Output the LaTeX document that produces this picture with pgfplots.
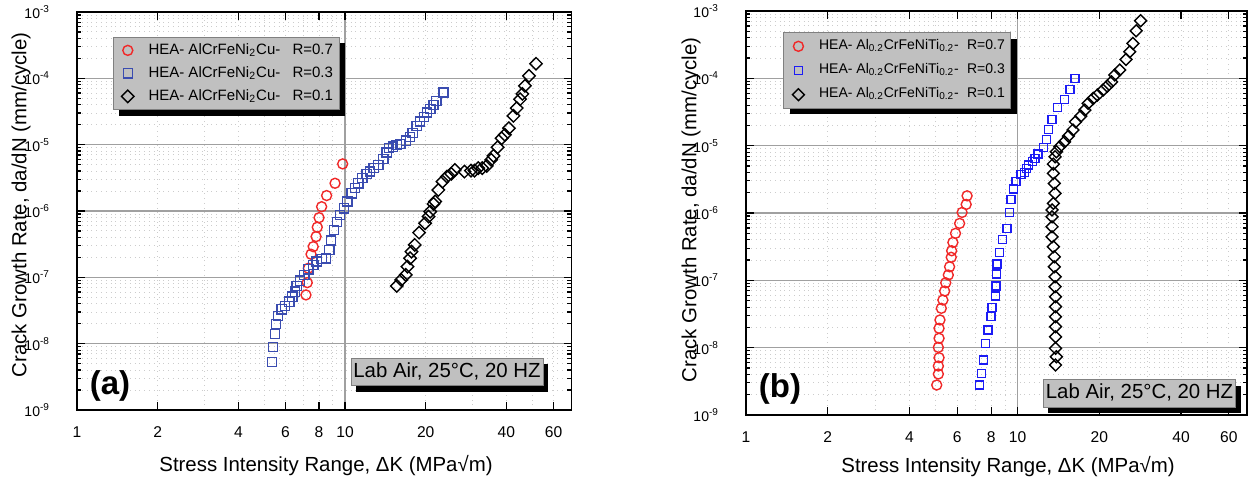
\documentclass[border=0pt]{standalone}
\usepackage{fontspec}
\setmainfont{Liberation Sans}
\usepackage{pgfplots}
\pgfplotsset{compat=1.18}
\usetikzlibrary{shadows}
\definecolor{mred}{HTML}{F02828}
\definecolor{bluea}{HTML}{3A4CB0}
\definecolor{blueb}{HTML}{1C1CF5}
\definecolor{lgray}{HTML}{C0C0C0}
\definecolor{gridmaj}{HTML}{A0A0A0}
\definecolor{gridmin}{HTML}{CCCCCC}
\pgfplotsset{
 legend image code/.code={\path (0pt,0pt) (14pt,0pt); \draw[mark repeat=2,mark phase=2,#1] plot coordinates {(0pt,0pt) (5pt,0pt) (14pt,0pt)};},
 every axis/.append style={
  scale only axis,
  xmin=1, xmax=70, ymin=1e-9, ymax=1e-3,
  xtick={1,10,100}, xticklabels={1,10,100},
  extra x ticks={2,4,6,8,20,40,60},
  extra x tick labels={2,4,6,8,20,40,60},
  extra x tick style={grid=none},
  ytick={1e-9,1e-8,1e-7,1e-6,1e-5,1e-4,1e-3},
  yticklabels={10\textsuperscript{-9},10\textsuperscript{-8},10\textsuperscript{-7},10\textsuperscript{-6},10\textsuperscript{-5},10\textsuperscript{-4},10\textsuperscript{-3}},
  grid=both,
  major grid style={gridmaj, line width=0.6pt},
  minor grid style={gridmin, dotted, line width=0.5pt},
  minor x tick style={draw=none},
  axis line style={line width=0.8pt},
  major tick length=4pt, minor tick length=2.2pt,
  tick style={black, line width=0.6pt},
  xticklabel style={font=\fontsize{7.8}{9}\selectfont, yshift=-5pt},
  yticklabel style={font=\fontsize{7}{8}\selectfont, xshift=-10pt},
  legend cell align=left,
 },
}
\begin{document}
\begin{tikzpicture}
\useasboundingbox (0pt,0pt) rectangle (624.5pt,241pt);
% ---------------- panel (a)
\begin{loglogaxis}[at={(38.5pt,36pt)}, anchor=south west, width=247.25pt, height=199pt,
  legend style={at={(0.0722,0.938)}, anchor=north west, fill=lgray, draw=gray,
    font=\fontsize{7.5}{9}\selectfont, inner xsep=2pt, inner ysep=2pt, row sep=2.2pt,
    nodes={inner sep=1pt, text height=5.5pt, text depth=1.8pt},
    drop shadow={shadow xshift=3pt, shadow yshift=-3pt, fill=black, opacity=1}}]
\addplot[only marks, line width=0.7pt, mark=o, mred, mark size=2.5pt] table {
7.15 5.43e-8
7.23 8.32e-8
7.30 1.37e-7
7.47 2.23e-7
7.61 2.90e-7
7.80 4.11e-7
7.88 5.70e-7
8.00 7.94e-7
8.18 1.16e-6
8.54 1.71e-6
9.18 2.62e-6
9.80 5.13e-6
};
\addlegendentry{\makebox[72pt][l]{HEA- AlCrFeNi\textsubscript{2}Cu-}R=0.7}
\addplot[only marks, line width=0.7pt, mark=square, bluea, mark size=2.3pt] table {
5.34 5.30e-9
5.39 8.9e-9
5.48 1.40e-8
5.53 1.98e-8
5.62 2.62e-8
5.80 3.30e-8
5.97 3.71e-8
6.20 4.30e-8
6.36 5.12e-8
6.51 6.08e-8
6.60 7.41e-8
6.79 8.91e-8
7.05 1.09e-7
7.30 1.32e-7
7.61 1.54e-7
7.84 1.73e-7
8.19 1.88e-7
8.49 1.94e-7
8.74 2.59e-7
8.87 3.58e-7
9.10 5.19e-7
9.33 6.86e-7
9.58 8.73e-7
9.91 1.10e-6
10.2 1.39e-6
10.6 1.85e-6
10.9 2.21e-6
11.2 2.62e-6
11.6 3.13e-6
12.05 3.63e-6
12.4 3.93e-6
12.8 4.43e-6
13.3 4.95e-6
13.9 6.04e-6
14.3 7.60e-6
14.6 8.85e-6
15.1 9.35e-6
15.6 9.93e-6
16.1 1.03e-5
16.9 1.15e-5
17.5 1.30e-5
17.9 1.49e-5
18.5 1.92e-5
19.05 2.23e-5
19.7 2.60e-5
20.2 3.05e-5
20.8 3.43e-5
21.4 3.98e-5
21.9 4.58e-5
23.3 6.11e-5
};
\addlegendentry{\makebox[72pt][l]{HEA- AlCrFeNi\textsubscript{2}Cu-}R=0.3}
\addplot[only marks, line width=0.7pt, mark=square, mark options={rotate=45}, black, mark size=2.2pt] table {
15.6 7.41e-8
16.2 9.14e-8
16.85 1.09e-7
17.1 1.45e-7
17.5 1.94e-7
17.7 2.44e-7
18.2 3.08e-7
18.9 4.72e-7
19.9 6.55e-7
20.5 8.24e-7
20.8 9.79e-7
21.4 1.28e-6
21.7 1.39e-6
22.3 2.08e-6
23.1 2.77e-6
24.0 3.30e-6
24.9 3.63e-6
25.7 4.17e-6
27.9 3.93e-6
29.5 4.06e-6
30.4 4.06e-6
31.4 4.43e-6
32.5 4.43e-6
33.8 4.79e-6
35.1 5.90e-6
35.8 6.78e-6
37.1 9.16e-6
38.4 1.25e-5
39.5 1.41e-5
40.9 1.77e-5
42.5 2.72e-5
43.7 3.56e-5
45.0 4.85e-5
45.9 5.83e-5
46.9 7.71e-5
48.6 1.09e-4
51.6 1.66e-4
};
\addlegendentry{\makebox[72pt][l]{HEA- AlCrFeNi\textsubscript{2}Cu-}R=0.1}
\end{loglogaxis}
% ---------------- panel (b)
\begin{loglogaxis}[at={(373pt,33.5pt)}, anchor=south west, width=250.5pt, height=202pt,
  legend style={at={(0.0745,0.947)}, anchor=north west, fill=lgray, draw=gray,
    font=\fontsize{7}{8.5}\selectfont, inner xsep=2pt, inner ysep=2pt, row sep=2.6pt,
    nodes={inner sep=1pt, text height=5.3pt, text depth=2.2pt},
    drop shadow={shadow xshift=3pt, shadow yshift=-3pt, fill=black, opacity=1}}]
\addplot[only marks, line width=0.7pt, mark=o, mred, mark size=2.5pt] table {
5.04 2.79e-9
5.11 4.06e-9
5.11 5.34e-9
5.14 7.10e-9
5.11 1.01e-8
5.14 1.38e-8
5.14 1.94e-8
5.18 2.58e-8
5.24 3.84e-8
5.31 5.10e-8
5.39 6.93e-8
5.44 9.20e-8
5.56 1.20e-7
5.62 1.59e-7
5.70 2.20e-7
5.72 2.75e-7
5.78 3.66e-7
5.91 4.99e-7
6.12 7.01e-7
6.25 1.02e-6
6.47 1.34e-6
6.52 1.80e-6
};
\addlegendentry{\makebox[74pt][l]{HEA- Al\textsubscript{0.2}CrFeNiTi\textsubscript{0.2}-}R=0.7}
\addplot[only marks, line width=0.7pt, mark=square, blueb, mark size=2pt] table {
7.24 2.79e-9
7.36 4.16e-9
7.51 6.56e-9
7.61 1.16e-8
7.78 1.83e-8
7.98 2.88e-8
8.05 3.92e-8
8.28 5.85e-8
8.33 8.22e-8
8.36 1.24e-7
8.40 1.75e-7
8.57 2.57e-7
8.81 4.06e-7
9.14 5.91e-7
9.35 1.01e-6
9.45 1.60e-6
9.67 2.27e-6
9.86 2.91e-6
10.3 3.75e-6
10.6 4.02e-6
10.8 4.60e-6
11.0 5.15e-6
11.35 5.77e-6
11.6 6.47e-6
11.9 7.50e-6
12.45 9.44e-6
12.8 1.24e-5
13.0 1.75e-5
13.4 2.46e-5
14.0 3.71e-5
14.9 4.86e-5
15.6 6.86e-5
16.3 9.98e-5
};
\addlegendentry{\makebox[74pt][l]{HEA- Al\textsubscript{0.2}CrFeNiTi\textsubscript{0.2}-}R=0.3}
\addplot[only marks, line width=0.7pt, mark=square, mark options={rotate=45}, black, mark size=2.1pt] table {
13.8 5.52e-9
13.9 7.34e-9
13.8 9.78e-9
13.8 1.45e-8
13.8 2.05e-8
13.8 2.88e-8
13.8 4.06e-8
13.8 5.71e-8
13.75 8.04e-8
13.75 1.13e-7
13.66 1.59e-7
13.66 2.24e-7
13.55 3.15e-7
13.4 4.43e-7
13.4 6.25e-7
13.4 8.79e-7
13.4 1.11e-6
13.55 1.39e-6
13.75 1.96e-6
13.66 2.75e-6
13.55 3.88e-6
13.55 5.33e-6
13.75 6.84e-6
13.9 8.11e-6
14.3 9.64e-6
14.9 1.14e-5
15.4 1.39e-5
16.0 1.71e-5
16.35 2.26e-5
17.1 2.75e-5
17.7 3.38e-5
18.2 4.25e-5
19.0 5.04e-5
19.7 5.64e-5
20.65 6.70e-5
21.4 7.67e-5
22.2 8.89e-5
22.8 1.12e-4
23.8 1.33e-4
25.1 1.91e-4
25.9 2.48e-4
26.6 3.30e-4
27.35 5.08e-4
28.4 7.16e-4
};
\addlegendentry{\makebox[74pt][l]{HEA- Al\textsubscript{0.2}CrFeNiTi\textsubscript{0.2}-}R=0.1}
\end{loglogaxis}
% ---------------- labels
\node[rotate=90, font=\fontsize{10.2}{12}\selectfont] at (10.5pt,138.5pt) {Crack Growth Rate, da/dN (mm/cycle)};
\node[rotate=90, font=\fontsize{10.2}{12}\selectfont] at (345.5pt,136pt) {Crack Growth Rate, da/dN (mm/cycle)};
\node[font=\fontsize{10.2}{12}\selectfont] at (163pt,8pt) {Stress Intensity Range, ΔK (MPa√m)};
\node[font=\fontsize{10.2}{12}\selectfont] at (504pt,7.5pt) {Stress Intensity Range, ΔK (MPa√m)};
\tikzset{labbox/.style={fill=lgray, draw=gray, inner xsep=1.2pt, inner ysep=2pt, text height=7.6pt, text depth=2pt,
  font=\fontsize{10.2}{12}\selectfont, drop shadow={shadow xshift=2.5pt, shadow yshift=-3pt, fill=black, opacity=1}}}
\node[labbox] at (223.5pt,55pt) {Lab Air, 25°C, 20 HZ};
\node[labbox] at (569.75pt,44.3pt) {Lab Air, 25°C, 20 HZ};
\node[font=\bfseries\fontsize{16.5}{20}\selectfont] at (55pt,48pt) {(a)};
\node[font=\bfseries\fontsize{16.5}{20}\selectfont] at (390pt,46.5pt) {(b)};
\end{tikzpicture}
\end{document}
